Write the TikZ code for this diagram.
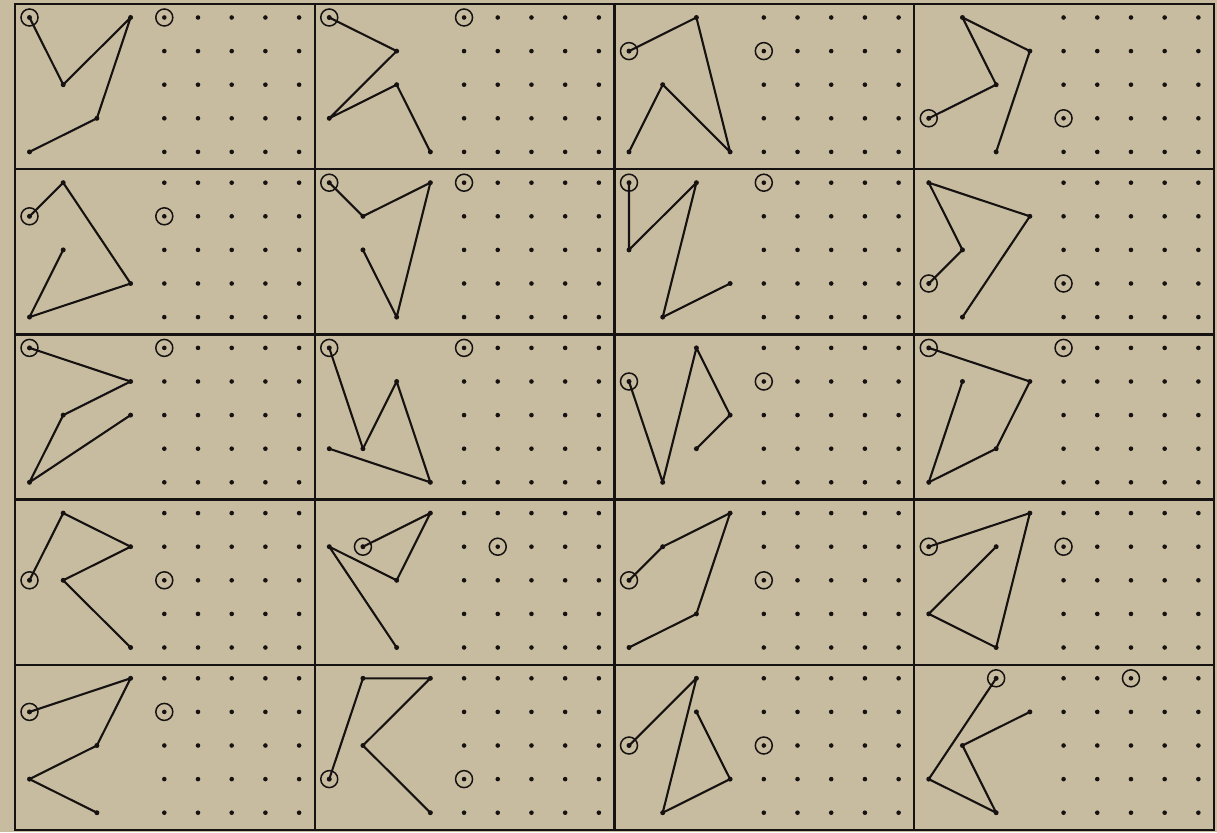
\documentclass[tikz,border=0pt]{standalone}
\definecolor{paper}{RGB}{200,188,160}
\definecolor{ink}{RGB}{22,18,18}
\tikzset{
  poly/.style={ink, line width=2.1pt, line join=round, line cap=round},
  ring/.style={ink, line width=1.5pt},
  frameline/.style={ink, line width=2.4pt},
  dotfill/.style={ink}
}
% #1 row, #2 column, #3/#4 circled start, #5 remaining vertices, #6/#7 circled grid dot
\newcommand\Cell[7]{%
  \pgfmathsetmacro\cx{15+#2*299.75+14.5}%
  \pgfmathsetmacro\cy{4+#1*165.2+13.5}%
  \begin{scope}[shift={(\cx,\cy)}, x=33.7pt, y=-33.6pt]
    \draw[poly] (#3,#4) \foreach \x/\y in {#5}{ -- (\x,\y)};
    \foreach \x/\y in {#3/#4,#5}{\fill[dotfill] (\x,\y) circle[radius=2.5pt];}
    \draw[ring] (#3,#4) circle[radius=8.5pt];
    \foreach \i in {4,...,8}{\foreach \j in {0,...,4}{\fill[dotfill] (\i,\j) circle[radius=2.3pt];}}
    \draw[ring] (#6,#7) circle[radius=8.5pt];
  \end{scope}}
\begin{document}
\begin{tikzpicture}[x=1pt,y=-1pt]
\fill[paper] (0,0) rectangle (1217,832);
\useasboundingbox (0,0) rectangle (1217,832);
% frame
\draw[frameline] (15,4) rectangle (1214,830);
\foreach \k in {1,2,3}{\draw[frameline] (15+\k*299.75,4) -- (15+\k*299.75,830);}
\foreach \k in {1,2,3,4}{\draw[frameline] (15,4+\k*165.2) -- (1214,4+\k*165.2);}
% row 0
\Cell{0}{0}{0}{0}{1/2,3/0,2/3,0/4}{4}{0}
\Cell{0}{1}{0}{0}{2/1,0/3,2/2,3/4}{4}{0}
\Cell{0}{2}{0}{1}{2/0,3/4,1/2,0/4}{4}{1}
\Cell{0}{3}{0}{3}{2/2,1/0,3/1,2/4}{4}{3}
% row 1
\Cell{1}{0}{0}{1}{1/0,3/3,0/4,1/2}{4}{1}
\Cell{1}{1}{0}{0}{1/1,3/0,2/4,1/2}{4}{0}
\Cell{1}{2}{0}{0}{0/2,2/0,1/4,3/3}{4}{0}
\Cell{1}{3}{0}{3}{1/2,0/0,3/1,1/4}{4}{3}
% row 2
\Cell{2}{0}{0}{0}{3/1,1/2,0/4,3/2}{4}{0}
\Cell{2}{1}{0}{0}{1/3,2/1,3/4,0/3}{4}{0}
\Cell{2}{2}{0}{1}{1/4,2/0,3/2,2/3}{4}{1}
\Cell{2}{3}{0}{0}{3/1,2/3,0/4,1/1}{4}{0}
% row 3
\Cell{3}{0}{0}{2}{1/0,3/1,1/2,3/4}{4}{2}
\Cell{3}{1}{1}{1}{3/0,2/2,0/1,2/4}{5}{1}
\Cell{3}{2}{0}{2}{1/1,3/0,2/3,0/4}{4}{2}
\Cell{3}{3}{0}{1}{3/0,2/4,0/3,2/1}{4}{1}
% row 4
\Cell{4}{0}{0}{1}{3/0,2/2,0/3,2/4}{4}{1}
\Cell{4}{1}{0}{3}{1/0,3/0,1/2,3/4}{4}{3}
\Cell{4}{2}{0}{2}{2/0,1/4,3/3,2/1}{4}{2}
\Cell{4}{3}{2}{0}{0/3,2/4,1/2,3/1}{6}{0}
\end{tikzpicture}
\end{document}
